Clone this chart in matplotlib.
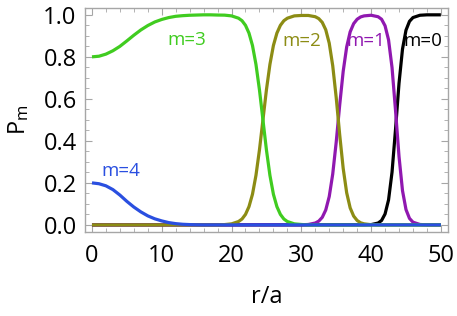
import matplotlib
matplotlib.use('Agg')
import matplotlib.pyplot as plt
from matplotlib.ticker import MultipleLocator

plt.rcParams['font.family'] = ['Open Sans', 'DejaVu Sans']
plt.rcParams['mathtext.fontset'] = 'custom'
plt.rcParams['mathtext.rm'] = 'Open Sans'

# P_m versus r/a
r_m4 = [0, 1, 2, 3, 4, 5, 6, 7, 8, 9, 10, 11, 12, 13, 14, 15, 16, 50]
p_m4 = [0.200, 0.196, 0.186, 0.168, 0.142, 0.112, 0.085, 0.062, 0.043, 0.029,
        0.019, 0.011, 0.006, 0.003, 0.0015, 0.0005, 0, 0]

r_m3 = [0, 1, 2, 3, 4, 5, 6, 7, 8, 9, 10, 11, 12, 13, 14, 15, 16, 17, 18, 19, 20,
        21, 21.5, 22, 22.5, 23, 23.5, 24, 24.5, 25, 25.5, 26, 26.5, 27, 27.5, 28,
        29, 30, 31, 50]
p_m3 = [0.800, 0.803, 0.813, 0.829, 0.850, 0.876, 0.903, 0.928, 0.949, 0.966,
        0.978, 0.987, 0.993, 0.996, 0.998, 0.999, 1.0, 1.0, 0.999, 0.9985, 0.995,
        0.984, 0.972, 0.950, 0.913, 0.854, 0.764, 0.643, 0.500, 0.357, 0.236, 0.146,
        0.087, 0.050, 0.028, 0.016, 0.005, 0.002, 0, 0]

r_m2 = [0, 18, 19, 20, 21, 21.5, 22, 22.5, 23, 23.5, 24, 24.5, 25, 25.5, 26, 26.5,
        27, 27.5, 28, 29, 30, 31, 32, 32.5, 33, 33.5, 34, 34.5, 35, 35.5, 36, 36.5,
        37, 37.5, 38, 38.5, 39, 40, 41, 50]
p_m2 = [0, 0, 0.0015, 0.005, 0.016, 0.028, 0.050, 0.087, 0.146, 0.236, 0.357, 0.500,
        0.643, 0.764, 0.854, 0.913, 0.950, 0.972, 0.984, 0.995, 0.997, 0.997, 0.991,
        0.982, 0.964, 0.929, 0.865, 0.758, 0.606, 0.429, 0.269, 0.153, 0.081, 0.042,
        0.021, 0.010, 0.005, 0.001, 0, 0]

r_m1 = [0, 30, 31, 32, 32.5, 33, 33.5, 34, 34.5, 35, 35.5, 36, 36.5, 37, 37.5, 38,
        38.5, 39, 40, 41, 41.5, 42, 42.5, 43, 43.5, 44, 44.5, 45, 45.5, 46, 47, 48, 50]
p_m1 = [0, 0.0005, 0.002, 0.009, 0.018, 0.036, 0.071, 0.135, 0.242, 0.394, 0.571,
        0.731, 0.847, 0.919, 0.958, 0.979, 0.990, 0.995, 0.998, 0.991, 0.979, 0.948,
        0.881, 0.749, 0.545, 0.326, 0.163, 0.073, 0.031, 0.013, 0.002, 0, 0]

r_m0 = [0, 39, 40, 41, 41.5, 42, 42.5, 43, 43.5, 44, 44.5, 45, 45.5, 46, 47, 48, 50]
p_m0 = [0, 0.0005, 0.0014, 0.0088, 0.021, 0.052, 0.119, 0.251, 0.455, 0.674, 0.837,
        0.927, 0.969, 0.987, 0.998, 1.0, 1.0]

labels = ['m=0', 'm=1', 'm=2', 'm=3', 'm=4']
colors = ['#000000', '#9018b0', '#8c8c14', '#40cc20', '#2a4fe0']
label_pos = [(47.4, 0.875), (39.2, 0.875), (30.1, 0.875), (13.6, 0.88), (4.2, 0.255)]

fig = plt.figure(figsize=(4.57, 3.16), dpi=100)
ax = fig.add_axes([0.186, 0.267, 0.794, 0.708])

series = [(r_m0, p_m0), (r_m1, p_m1), (r_m2, p_m2), (r_m3, p_m3), (r_m4, p_m4)]
for (r, p), c in zip(series, colors):
    ax.plot(r, p, color=c, lw=2.3, solid_capstyle='butt')

for lab, c, (x, y) in zip(labels, colors, label_pos):
    ax.text(x, y, lab, color=c, fontsize=13.5, ha='center', va='center')

ax.set_xlim(-1, 51)
ax.set_ylim(-0.032, 1.033)
ax.xaxis.set_major_locator(MultipleLocator(10))
ax.xaxis.set_minor_locator(MultipleLocator(2))
ax.yaxis.set_major_locator(MultipleLocator(0.2))
ax.yaxis.set_minor_locator(MultipleLocator(0.05))
ax.yaxis.set_major_formatter(matplotlib.ticker.FormatStrFormatter('%.1f'))

for s in ax.spines.values():
    s.set_color('#a6a6a6')
    s.set_linewidth(1.0)
ax.tick_params(which='both', direction='in', top=True, right=True, color='#a6a6a6',
               labelsize=17)
ax.tick_params(which='major', length=5, width=0.8)
ax.tick_params(which='minor', length=3, width=0.6)
ax.tick_params(axis='x', pad=9)
ax.tick_params(axis='y', pad=6)

ax.set_xlabel('r/a', fontsize=17, labelpad=12)
ax.set_ylabel(r'$\mathregular{P_m}$', fontsize=17, labelpad=9)

plt.savefig('out.png', dpi=100)
